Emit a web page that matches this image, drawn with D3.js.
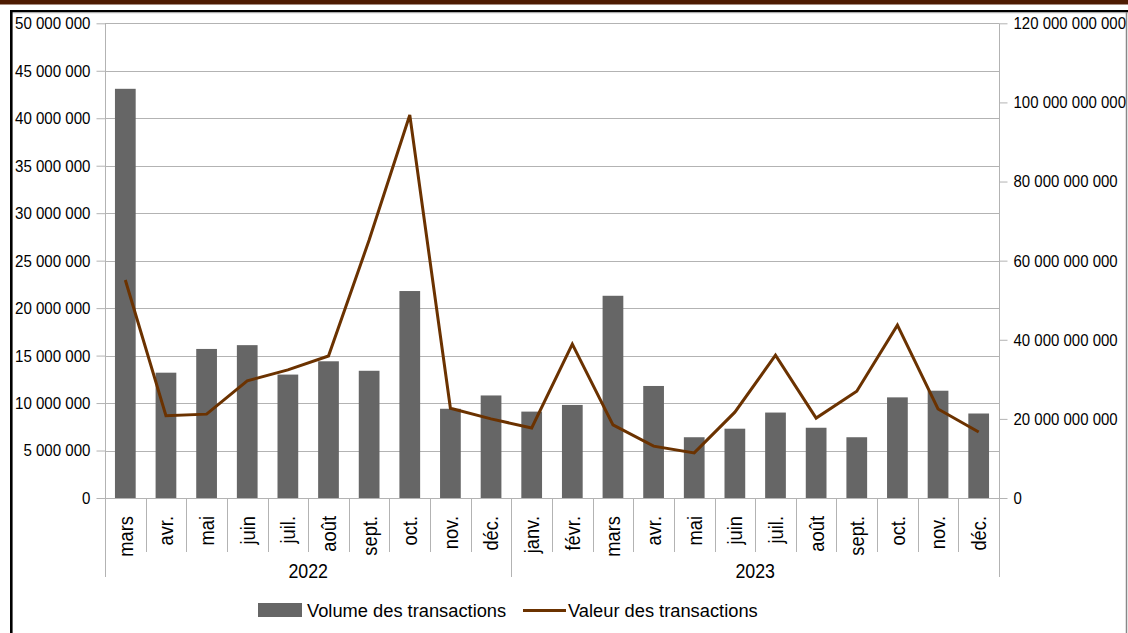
<!DOCTYPE html>
<html><head><meta charset="utf-8">
<script src="https://cdn.jsdelivr.net/npm/d3@7"></script>
<style>
html,body{margin:0;padding:0;background:#fff;}
svg{display:block;font-family:"Liberation Sans",Arial,sans-serif;}
</style></head>
<body>
<svg id="c" width="1128" height="633"></svg>
<script>
const months = ["mars","avr.","mai","juin","juil.","août","sept.","oct.","nov.","déc.",
  "janv.","févr.","mars","avr.","mai","juin","juil.","août","sept.","oct.","nov.","déc."];
const years = ["2022","2023"];
const yearCounts = [10,12];
const volume = [43.1e6,13.2e6,15.7e6,16.1e6,13.0e6,14.4e6,13.4e6,21.8e6,9.4e6,10.8e6,
  9.1e6,9.8e6,21.3e6,11.8e6,6.4e6,7.3e6,9.0e6,7.4e6,6.4e6,10.6e6,11.3e6,8.9e6];
const valeur = [55.1e9,20.8e9,21.2e9,29.6e9,32.4e9,35.9e9,65.2e9,96.8e9,22.7e9,20.0e9,
  17.7e9,38.9e9,18.5e9,13.1e9,11.4e9,21.7e9,36.1e9,20.2e9,27.0e9,43.7e9,22.5e9,16.7e9];
const leftTicks = [0,5e6,10e6,15e6,20e6,25e6,30e6,35e6,40e6,45e6,50e6];
const rightTicks = [0,20e9,40e9,60e9,80e9,100e9,120e9];
const legendLabels = ["Volume des transactions","Valeur des transactions"];

const svg = d3.select("#c");
const L=105, R=999, T=23.3, B=498;
const fmt = v => d3.format(",")(v).replace(/,/g," ");

// frame
svg.append("rect").attr("x",0).attr("y",0).attr("width",1128).attr("height",4.5).attr("fill","#4e1b02");
svg.append("line").attr("x1",10).attr("x2",1128).attr("y1",11).attr("y2",11).attr("stroke","#000").attr("stroke-width",2);
svg.append("line").attr("x1",10).attr("x2",1128).attr("y1",12.7).attr("y2",12.7).attr("stroke","#999").attr("stroke-width",1);
svg.append("line").attr("x1",11.3).attr("x2",11.3).attr("y1",10).attr("y2",633).attr("stroke","#000").attr("stroke-width",2.6);
svg.append("line").attr("x1",1126.5).attr("x2",1126.5).attr("y1",12).attr("y2",633).attr("stroke","#888").attr("stroke-width",1.5);

const idx = months.map((m,i)=>i);
const x = d3.scaleBand().domain(idx).range([L,R]).paddingInner(0.49).paddingOuter(0.245);
const xs = d3.scaleBand().domain(idx).range([L,R]);
const yL = d3.scaleLinear().domain([0,50e6]).range([B,T]);
const yR = d3.scaleLinear().domain([0,120e9]).range([B,T]);

// gridlines
svg.append("g").selectAll("line").data(leftTicks).join("line")
  .attr("x1",L).attr("x2",R).attr("y1",d=>Math.round(yL(d))+0.5).attr("y2",d=>Math.round(yL(d))+0.5)
  .attr("stroke","#b3b3b3").attr("stroke-width",1);

// left axis
const gl = svg.append("g").attr("transform",`translate(${L+0.5},0)`)
  .call(d3.axisLeft(yL).tickValues(leftTicks).tickFormat(fmt).tickSize(9).tickPadding(6));
gl.select(".domain").attr("stroke","#b3b3b3").attr("d",`M0,${T}V${B}`);
gl.selectAll(".tick line").attr("stroke","#b3b3b3");
gl.selectAll(".tick text").attr("font-size","15.1px").attr("fill","#000")
  .attr("font-family","Liberation Sans, Arial, sans-serif").attr("transform","scale(1,1.12)");

// right axis
const gr = svg.append("g").attr("transform",`translate(${R+0.5},0)`)
  .call(d3.axisRight(yR).tickValues(rightTicks).tickFormat(fmt).tickSize(8).tickPadding(6));
gr.select(".domain").attr("stroke","#b3b3b3").attr("d",`M0,${T}V${B}`);
gr.selectAll(".tick line").attr("stroke","#b3b3b3");
gr.selectAll(".tick text").attr("font-size","15px").attr("fill","#000")
  .attr("font-family","Liberation Sans, Arial, sans-serif").attr("transform","scale(1,1.12)");

// bars
svg.append("g").selectAll("rect").data(volume).join("rect")
  .attr("x",(d,i)=>x(i)).attr("width",x.bandwidth())
  .attr("y",d=>yL(d)).attr("height",d=>B-yL(d)).attr("fill","#666666");

// line
const line = d3.line().x((d,i)=>xs(i)+xs.bandwidth()/2).y(d=>yR(d));
svg.append("path").datum(valeur).attr("d",line).attr("fill","none")
  .attr("stroke","#6b3200").attr("stroke-width",3).attr("stroke-linejoin","miter");

// category axis
svg.append("line").attr("x1",L).attr("x2",R).attr("y1",B+0.5).attr("y2",B+0.5).attr("stroke","#b3b3b3");
let bounds=[0]; yearCounts.reduce((a,c)=>{bounds.push(a+c);return a+c;},0);
const yearBoundary = new Set(bounds);
svg.append("g").selectAll("line").data(d3.range(0,months.length+1)).join("line")
  .attr("x1",i=>Math.round(L+i*xs.step())+0.5).attr("x2",i=>Math.round(L+i*xs.step())+0.5)
  .attr("y1",B).attr("y2",i=>yearBoundary.has(i)?577:552)
  .attr("stroke","#b3b3b3");

svg.append("g").selectAll("text").data(months).join("text")
  .attr("transform",(d,i)=>`translate(${xs(i)+xs.bandwidth()/2},516) rotate(-90) scale(1,1.15)`)
  .attr("text-anchor","end").attr("dy","0.35em")
  .attr("font-size","18.3px").attr("fill","#000").text(d=>d);

svg.append("g").selectAll("text").data(years).join("text")
  .attr("transform",(d,i)=>`translate(${(L+bounds[i]*xs.step()+L+bounds[i+1]*xs.step())/2},578) scale(1,1.15)`)
  .attr("text-anchor","middle")
  .attr("font-size","17.8px").attr("fill","#000").text(d=>d);

// legend
const lg = svg.append("g");
lg.append("rect").attr("x",258).attr("y",603).attr("width",44).attr("height",14).attr("fill","#666666");
lg.append("text").attr("x",307).attr("y",617).attr("font-size","18.3px").attr("fill","#000").text(legendLabels[0]);
lg.append("line").attr("x1",523).attr("x2",566).attr("y1",610.5).attr("y2",610.5).attr("stroke","#6b3200").attr("stroke-width",3);
lg.append("text").attr("x",568).attr("y",617).attr("font-size","18.3px").attr("fill","#000").text(legendLabels[1]);
</script>
</body></html>
